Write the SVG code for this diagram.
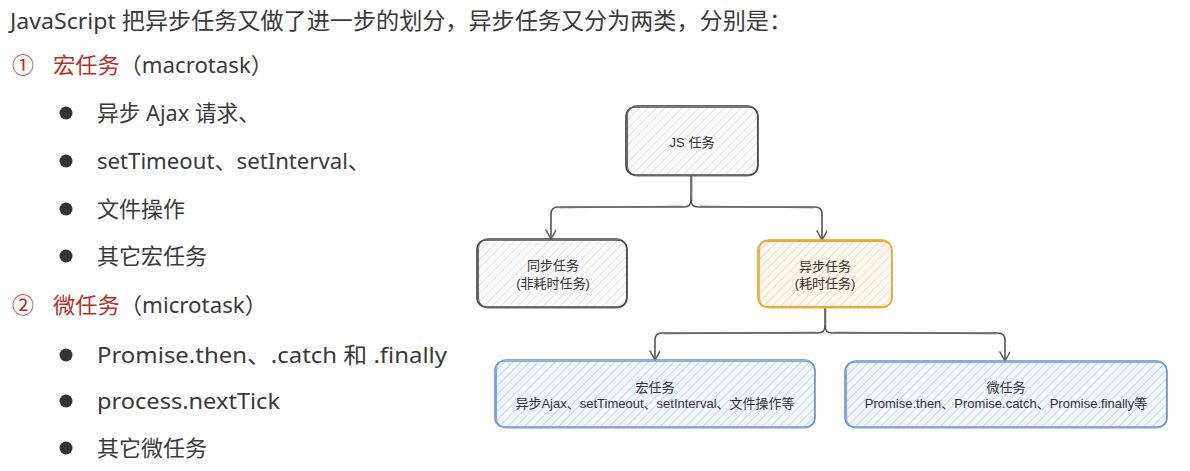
<svg xmlns="http://www.w3.org/2000/svg" width="1190" height="471" viewBox="0 0 1190 471">
  <style>
    .t { font-family: "Noto Sans", "Noto Sans CJK SC", sans-serif; font-size: 22px; fill: #3a3a3a; }
    .hd { font-size: 22.5px; }
    .red { fill: #b8302c; }
    .dot { fill: #333; }
    .bt { font-family: "Liberation Sans", Arial, "Noto Sans CJK SC", sans-serif; font-size: 13px; fill: #333; text-anchor: middle; }
    .edge { fill: none; stroke: #555; stroke-width: 1.6; stroke-linecap: round; stroke-linejoin: round; }
    .edge2 { fill: none; stroke: #555; stroke-width: 0.8; stroke-linecap: round; opacity: 0.7; }
    .g1 { fill: url(#hGray); stroke: #4a4a4a; stroke-width: 1.7; }
    .g2 { fill: none; stroke: #4a4a4a; stroke-width: 1.1; opacity: 0.8; }
    .o1 { fill: url(#hOrange); stroke: #e9a93a; stroke-width: 1.8; }
    .o2 { fill: none; stroke: #e9a93a; stroke-width: 1.1; opacity: 0.85; }
    .b1 { fill: url(#hBlue); stroke: #7396d8; stroke-width: 1.7; }
    .b2 { fill: none; stroke: #7396d8; stroke-width: 1.1; opacity: 0.85; }
  </style>
  <defs>
    <!-- hachure fills in the hand-drawn style -->
    <pattern id="hGray" width="6" height="6" patternUnits="userSpaceOnUse" patternTransform="rotate(45)">
      <rect width="6" height="6" fill="#fbfbfb"/>
      <line x1="0" y1="0" x2="0" y2="6" stroke="#d8d8d8" stroke-width="1.2"/>
    </pattern>
    <pattern id="hOrange" width="6" height="6" patternUnits="userSpaceOnUse" patternTransform="rotate(45)">
      <rect width="6" height="6" fill="#fff9f2"/>
      <line x1="0" y1="0" x2="0" y2="6" stroke="#f8c9a0" stroke-width="1.3"/>
    </pattern>
    <pattern id="hBlue" width="6" height="6" patternUnits="userSpaceOnUse" patternTransform="rotate(45)">
      <rect width="6" height="6" fill="#f3f7fd"/>
      <line x1="0" y1="0" x2="0" y2="6" stroke="#afc8ee" stroke-width="1.3"/>
    </pattern>
    <marker id="arr" markerWidth="14" markerHeight="14" refX="10" refY="5" orient="auto" markerUnits="userSpaceOnUse">
      <path d="M1,0 L10,5 L1,10" fill="none" stroke="#555" stroke-width="1.5" stroke-linecap="round" stroke-linejoin="round"/>
    </marker>
  </defs>

  <rect width="1190" height="471" fill="#ffffff"/>

  <!-- text column -->
  <g id="intro">
    <text class="t hd" x="10" y="29" textLength="782" lengthAdjust="spacingAndGlyphs">JavaScript 把异步任务又做了进一步的划分，异步任务又分为两类，分别是：</text>
  </g>
  <g id="macro-list">
    <text class="t red" x="12" y="73">①</text>
    <text class="t" x="53" y="73" textLength="220" lengthAdjust="spacingAndGlyphs"><tspan class="red">宏任务</tspan>（macrotask）</text>
    <circle class="dot" cx="66" cy="113" r="6.5"/>
    <text class="t" x="97" y="121" textLength="163" lengthAdjust="spacingAndGlyphs">异步 Ajax 请求、</text>
    <circle class="dot" cx="66" cy="161" r="6.5"/>
    <text class="t" x="97" y="169" textLength="273" lengthAdjust="spacingAndGlyphs">setTimeout、setInterval、</text>
    <circle class="dot" cx="66" cy="209" r="6.5"/>
    <text class="t" x="97" y="217">文件操作</text>
    <circle class="dot" cx="66" cy="256" r="6.5"/>
    <text class="t" x="97" y="264">其它宏任务</text>
  </g>
  <g id="micro-list">
    <text class="t red" x="12" y="313">②</text>
    <text class="t" x="53" y="313" textLength="214" lengthAdjust="spacingAndGlyphs"><tspan class="red">微任务</tspan>（microtask）</text>
    <circle class="dot" cx="66" cy="355" r="6.5"/>
    <text class="t" x="97" y="363" textLength="350" lengthAdjust="spacingAndGlyphs">Promise.then、.catch 和 .finally</text>
    <circle class="dot" cx="66" cy="401" r="6.5"/>
    <text class="t" x="97" y="409" textLength="183" lengthAdjust="spacingAndGlyphs">process.nextTick</text>
    <circle class="dot" cx="66" cy="448" r="6.5"/>
    <text class="t" x="97" y="456">其它微任务</text>
  </g>

  <!-- connectors -->
  <g id="connectors">
    <path class="edge" d="M691,176 L691,200 Q691,207 684,207 L558,207 Q551,207 551,214 L551,239" marker-end="url(#arr)"/>
    <path class="edge" d="M691,200 Q691,207 698,207 L815,207 Q822,207 822,214 L822,240" marker-end="url(#arr)"/>
    <path class="edge2" d="M692,177 L692,201 M560,208 L682,206 M700,206 L813,208"/>
    <path class="edge" d="M825,308 L825,326 Q825,333 818,333 L662,333 Q655,333 655,340 L655,360" marker-end="url(#arr)"/>
    <path class="edge" d="M825,326 Q825,333 832,333 L998,333 Q1005,333 1005,340 L1005,361" marker-end="url(#arr)"/>
    <path class="edge2" d="M826,309 L826,327 M664,334 L816,332 M834,332 L996,334"/>
  </g>

  <!-- nodes -->
  <g id="node-js">
    <rect class="g1" x="626" y="107" width="132" height="68" rx="9"/>
    <rect class="g2" x="627.5" y="105.5" width="130" height="70.5" rx="10"/>
    <text class="bt" x="692" y="147">JS 任务</text>
  </g>
  <g id="node-sync">
    <rect class="g1" x="477" y="240" width="150" height="67" rx="9"/>
    <rect class="g2" x="478.5" y="238.5" width="148" height="69.5" rx="10"/>
    <text class="bt" x="553" y="270">同步任务</text>
    <text class="bt" x="553" y="288">(非耗时任务)</text>
  </g>
  <g id="node-async">
    <rect class="o1" x="758" y="241" width="134" height="66" rx="9"/>
    <rect class="o2" x="759.5" y="239.5" width="132" height="68.5" rx="10"/>
    <text class="bt" x="825" y="271">异步任务</text>
    <text class="bt" x="825" y="288">(耗时任务)</text>
  </g>
  <g id="node-macrotask">
    <rect class="b1" x="495" y="361" width="320" height="66" rx="9"/>
    <rect class="b2" x="496.5" y="359.5" width="318" height="68.5" rx="10"/>
    <text class="bt" x="655" y="392">宏任务</text>
    <text class="bt" x="655" y="408">异步Ajax、setTimeout、setInterval、文件操作等</text>
  </g>
  <g id="node-microtask">
    <rect class="b1" x="845" y="362" width="322" height="65" rx="9"/>
    <rect class="b2" x="846.5" y="360.5" width="320" height="67.5" rx="10"/>
    <text class="bt" x="1006" y="392">微任务</text>
    <text class="bt" x="1006" y="408">Promise.then、Promise.catch、Promise.finally等</text>
  </g>
</svg>
